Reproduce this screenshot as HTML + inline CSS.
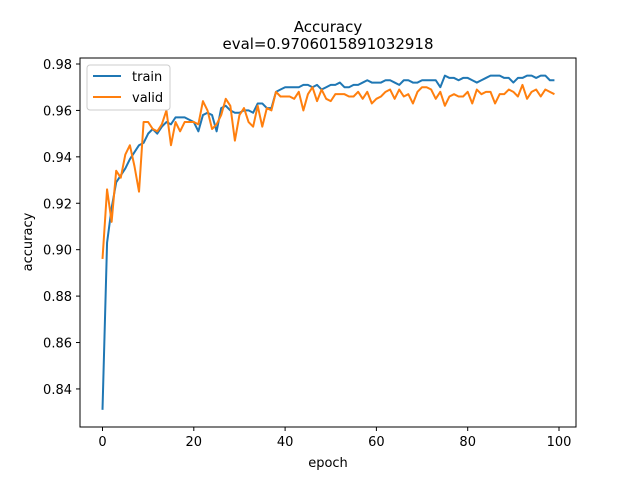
<!DOCTYPE html>
<html><head><meta charset="utf-8"><style>
body{margin:0;background:#fff;font-family:"DejaVu Sans","Liberation Sans",sans-serif;}
svg text{font-family:"DejaVu Sans","Liberation Sans",sans-serif;}
</style></head><body>
<svg id="chart" width="640" height="480">
<rect x="0" y="0" width="640" height="480" fill="#fff"/>
<text x="328" y="32" text-anchor="middle" font-size="15">Accuracy</text>
<text x="328" y="49" text-anchor="middle" font-size="15">eval=0.9706015891032918</text>
<g id="marks"></g>
<g id="axes"></g>
<rect x="80" y="58" width="496" height="369" fill="none" stroke="#000" stroke-width="1"/>
<text x="328" y="467" text-anchor="middle" font-size="13">epoch</text>
<text transform="translate(32,242) rotate(-90)" text-anchor="middle" font-size="13">accuracy</text>
<g>
<rect x="87" y="65" width="83" height="45" rx="3" fill="#fff" fill-opacity="0.8" stroke="#ccc"/>
<line x1="93" y1="76" x2="121" y2="76" stroke="#1f77b4" stroke-width="2"/>
<text x="132" y="81" font-size="13">train</text>
<line x1="93" y1="97" x2="121" y2="97" stroke="#ff7f0e" stroke-width="2"/>
<text x="132" y="102" font-size="13">valid</text>
</g>
</svg>
<script>
const train=[0.831,0.903,0.918,0.929,0.932,0.935,0.939,0.942,0.945,0.946,0.950,0.952,0.950,0.953,0.955,0.954,0.957,0.957,0.957,0.956,0.955,0.951,0.958,0.959,0.958,0.951,0.961,0.962,0.960,0.959,0.959,0.960,0.960,0.959,0.963,0.963,0.961,0.961,0.968,0.969,0.970,0.970,0.970,0.970,0.971,0.971,0.970,0.971,0.969,0.970,0.971,0.971,0.972,0.970,0.970,0.971,0.971,0.972,0.973,0.972,0.972,0.972,0.973,0.973,0.972,0.971,0.973,0.973,0.972,0.972,0.973,0.973,0.973,0.973,0.970,0.975,0.974,0.974,0.973,0.974,0.974,0.973,0.972,0.973,0.974,0.975,0.975,0.975,0.974,0.974,0.972,0.974,0.974,0.975,0.975,0.974,0.975,0.975,0.973,0.973];
const valid=[0.896,0.926,0.912,0.934,0.931,0.941,0.945,0.936,0.925,0.955,0.955,0.952,0.951,0.954,0.960,0.945,0.955,0.951,0.955,0.955,0.955,0.954,0.964,0.960,0.952,0.954,0.958,0.965,0.962,0.947,0.958,0.961,0.955,0.953,0.962,0.953,0.961,0.960,0.968,0.966,0.966,0.966,0.965,0.968,0.960,0.967,0.970,0.964,0.969,0.965,0.964,0.967,0.967,0.967,0.966,0.966,0.968,0.965,0.968,0.963,0.965,0.966,0.968,0.969,0.965,0.969,0.966,0.967,0.963,0.968,0.970,0.970,0.969,0.965,0.968,0.962,0.966,0.967,0.966,0.966,0.968,0.963,0.969,0.967,0.968,0.968,0.963,0.967,0.967,0.969,0.968,0.966,0.971,0.965,0.968,0.969,0.966,0.969,0.968,0.967];
const xTicks=[0,20,40,60,80,100];
const yTicks=[0.84,0.86,0.88,0.90,0.92,0.94,0.96,0.98];
const NS="http://www.w3.org/2000/svg";
function xs(v){return 102.5+v*4.565;}
function ys(v){return 64+(0.98-v)*2321;}
const marks=document.getElementById('marks'),axes=document.getElementById('axes');
function line(arr,color,name){
  const p=document.createElementNS(NS,'polyline');
  p.setAttribute('points',arr.map((v,i)=>xs(i)+','+ys(v)).join(' '));
  p.setAttribute('fill','none');p.setAttribute('stroke',color);p.setAttribute('stroke-width','2');
  p.setAttribute('stroke-linejoin','round');
  
  
  marks.appendChild(p);
}
line(train,'#1f77b4','train-line');
line(valid,'#ff7f0e','valid-line');
xTicks.forEach(t=>{
  const l=document.createElementNS(NS,'line');
  l.setAttribute('x1',xs(t));l.setAttribute('x2',xs(t));l.setAttribute('y1',427);l.setAttribute('y2',431);l.setAttribute('stroke','#000');
  
  
  axes.appendChild(l);
  const tx=document.createElementNS(NS,'text');
  tx.setAttribute('x',xs(t));tx.setAttribute('y',446);tx.setAttribute('text-anchor','middle');tx.setAttribute('font-size','13');
  tx.textContent=t;
  
  
  axes.appendChild(tx);
});
yTicks.forEach(t=>{
  const l=document.createElementNS(NS,'line');
  l.setAttribute('x1',76);l.setAttribute('x2',80);l.setAttribute('y1',ys(t));l.setAttribute('y2',ys(t));l.setAttribute('stroke','#000');
  
  
  axes.appendChild(l);
  const tx=document.createElementNS(NS,'text');
  tx.setAttribute('x',72);tx.setAttribute('y',ys(t)+5);tx.setAttribute('text-anchor','end');tx.setAttribute('font-size','13');
  tx.textContent=t.toFixed(2);
  
  
  axes.appendChild(tx);
});
</script>
</body></html>
